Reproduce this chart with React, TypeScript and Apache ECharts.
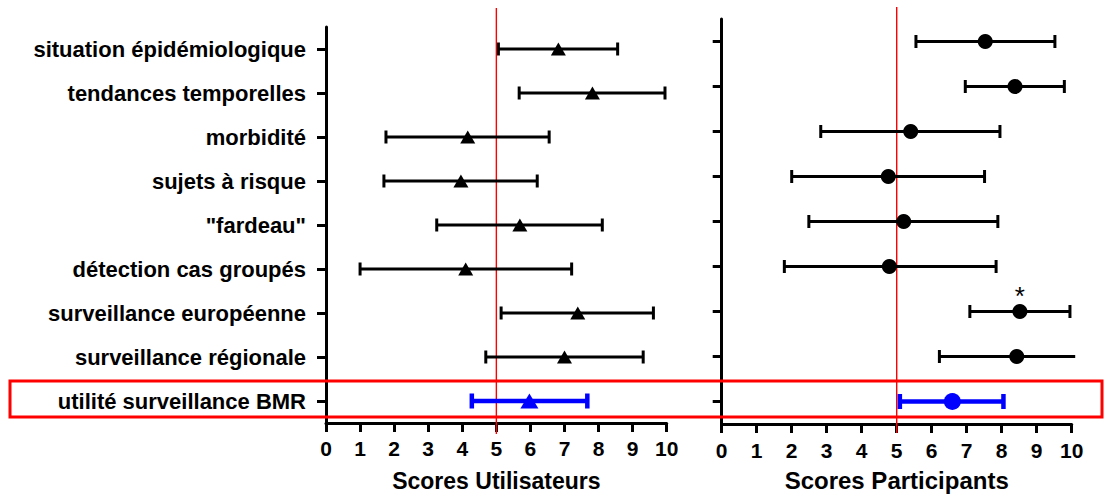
import React, { useEffect, useRef } from "react";
import * as echarts from "echarts";

const categories = [
  "situation épidémiologique",
  "tendances temporelles",
  "morbidité",
  "sujets à risque",
  "\"fardeau\"",
  "détection cas groupés",
  "surveillance européenne",
  "surveillance régionale",
  "utilité surveillance BMR",
];
const highlightCategory = "utilité surveillance BMR";

const userLow = [5.06, 5.67, 1.76, 1.7, 3.25, 1.0, 5.14, 4.69, 4.28];
const userMean = [6.82, 7.82, 4.16, 3.96, 5.69, 4.1, 7.39, 7.0, 5.97];
const userHigh = [8.56, 9.95, 6.55, 6.2, 8.11, 7.21, 9.61, 9.31, 7.67];

const partLow = [5.55, 6.96, 2.83, 2.0, 2.49, 1.79, 7.09, 6.22, 5.09];
const partMean = [7.53, 8.38, 5.4, 4.76, 5.2, 4.79, 8.52, 8.43, 6.59];
const partHigh = [9.52, 9.79, 7.95, 7.51, 7.89, 7.84, 9.95, 10.1, 8.05];
const partSignificance = ["", "", "", "", "", "", "*", "", ""];

const xTicks = [0, 1, 2, 3, 4, 5, 6, 7, 8, 9, 10];
const referenceScore = 5;
const xTitles = ["Scores Utilisateurs", "Scores Participants"];

const FONT = "'Liberation Sans', Arial, sans-serif";
const BLACK = "#000000";
const BLUE = "#0000ff";
const RED = "#ff0000";

function errorBarRender(params: any, api: any) {
  const idx = params.dataIndex;
  const hl = categories[idx] === highlightCategory;
  const color = hl ? BLUE : BLACK;
  const lw = hl ? 4.5 : 3;
  const lo = api.coord([api.value(0), api.value(2)]);
  const hi = api.coord([api.value(1), api.value(2)]);
  const capH = hl ? 7.5 : 6.5;
  const style = { stroke: color, lineWidth: lw, fill: "none" };
  const children: any[] = [
    { type: "line", shape: { x1: lo[0], y1: lo[1], x2: hi[0], y2: hi[1] }, style },
    { type: "line", shape: { x1: lo[0], y1: lo[1] - capH, x2: lo[0], y2: lo[1] + capH }, style },
  ];
  if (api.value(1) <= 10) {
    children.push({ type: "line", shape: { x1: hi[0], y1: hi[1] - capH, x2: hi[0], y2: hi[1] + capH }, style });
  }
  return { type: "group", children };
}

function refLineRender(topExtra: number, bottomExtra: number) {
  return (params: any, api: any) => {
    const cs = params.coordSys;
    const p = api.coord([api.value(0), 0]);
    return {
      type: "line",
      shape: { x1: p[0], y1: cs.y - topExtra, x2: p[0], y2: cs.y + cs.height + bottomExtra },
      style: { stroke: RED, lineWidth: 1.4 },
    };
  };
}

export default function App() {
  const ref = useRef<HTMLDivElement>(null);
  useEffect(() => {
    if (!ref.current) return;
    const chart = echarts.init(ref.current, undefined, { renderer: "svg" });

    const xAxisBase = (gridIndex: number, fontSize: number, nameSize: number, nameGap: number, margin: number) => ({
      type: "value",
      gridIndex,
      min: xTicks[0],
      max: xTicks[xTicks.length - 1],
      interval: 1,
      splitLine: { show: false },
      axisLine: { show: true, lineStyle: { color: BLACK, width: 3 } },
      axisTick: { show: true, length: 9, lineStyle: { color: BLACK, width: 3 } },
      axisLabel: { color: BLACK, fontSize, fontWeight: "bold", fontFamily: FONT, margin },
      name: xTitles[gridIndex],
      nameLocation: "middle",
      nameGap,
      nameTextStyle: { color: BLACK, fontSize: nameSize, fontWeight: "bold", fontFamily: FONT },
    });

    const yAxisBase = (gridIndex: number, showLabel: boolean) => ({
      type: "category",
      gridIndex,
      data: categories,
      inverse: true,
      axisLine: { show: true, lineStyle: { color: BLACK, width: 3 } },
      axisTick: { show: true, alignWithLabel: true, length: 9, lineStyle: { color: BLACK, width: 3 } },
      axisLabel: {
        show: showLabel,
        color: BLACK,
        fontSize: 22,
        fontWeight: "bold",
        fontFamily: FONT,
        margin: 20,
      },
      splitLine: { show: false },
    });

    const markerColor = (i: number) => (categories[i] === highlightCategory ? BLUE : BLACK);

    chart.setOption({
      animation: false,
      backgroundColor: "#ffffff",
      grid: [
        { left: 326, width: 340.7, top: 27, height: 397 },
        { left: 721.7, width: 350, top: 19, height: 408.7 },
      ],
      xAxis: [xAxisBase(0, 21, 23, 46, 15), xAxisBase(1, 21, 24, 44, 16)],
      yAxis: [yAxisBase(0, true), yAxisBase(1, false)],
      series: [
        {
          type: "custom",
          xAxisIndex: 0,
          yAxisIndex: 0,
          renderItem: refLineRender(19, 11),
          data: [[referenceScore]],
          z: 1,
        },
        {
          type: "custom",
          xAxisIndex: 1,
          yAxisIndex: 1,
          renderItem: refLineRender(12, 9),
          data: [[referenceScore]],
          z: 1,
        },
        {
          type: "custom",
          xAxisIndex: 0,
          yAxisIndex: 0,
          renderItem: errorBarRender,
          data: categories.map((c, i) => [userLow[i], userHigh[i], i]),
          z: 2,
        },
        {
          type: "custom",
          xAxisIndex: 1,
          yAxisIndex: 1,
          renderItem: errorBarRender,
          data: categories.map((c, i) => [partLow[i], partHigh[i], i]),
          z: 2,
        },
        {
          type: "scatter",
          xAxisIndex: 0,
          yAxisIndex: 0,
          symbol: "triangle",
          z: 3,
          data: categories.map((c, i) => ({
            value: [userMean[i], i],
            symbolSize: categories[i] === highlightCategory ? [18, 15] : [15, 13],
            itemStyle: { color: markerColor(i), opacity: 1 },
          })),
        },
        {
          type: "scatter",
          xAxisIndex: 1,
          yAxisIndex: 1,
          symbol: "circle",
          z: 3,
          data: categories.map((c, i) => ({
            value: [partMean[i], i],
            symbolSize: categories[i] === highlightCategory ? 17 : 15,
            itemStyle: { color: markerColor(i), opacity: 1 },
            label: {
              show: partSignificance[i] !== "",
              formatter: partSignificance[i],
              position: "top",
              distance: -5,
              color: BLACK,
              fontSize: 26,
              fontWeight: "normal",
              fontFamily: FONT,
            },
          })),
        },
      ],
      graphic: [
        {
          type: "rect",
          shape: { x: 10, y: 381, width: 1092, height: 36 },
          style: { fill: "none", stroke: RED, lineWidth: 3 },
          z: 10,
        },
      ],
    });
    return () => chart.dispose();
  }, []);
  return <div ref={ref} style={{ width: 1104, height: 497, position: "absolute", left: 0, top: 0 }} />;
}
